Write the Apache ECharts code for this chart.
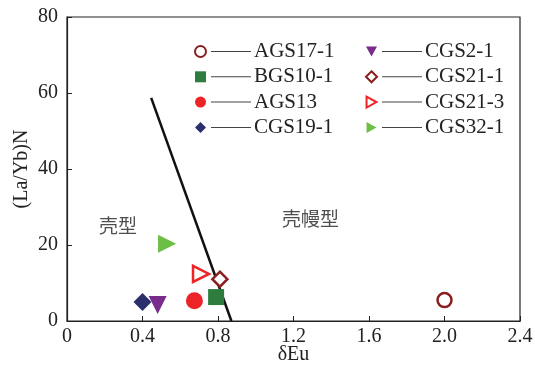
<!DOCTYPE html>
<html><head><meta charset="utf-8">
<script src="https://cdn.jsdelivr.net/npm/echarts@6/dist/echarts.min.js"></script>
<style>html,body{margin:0;padding:0;background:#fff}#c{width:535px;height:367px}</style>
</head><body><div id="c"></div>
<script>
var seriesNames = ['AGS17-1','BGS10-1','AGS13','CGS19-1','CGS2-1','CGS21-1','CGS21-3','CGS32-1'];
var seriesPoints = [[2.0,5.5],[0.79,6.3],[0.675,5.3],[0.40,5.0],[0.48,4.2],[0.81,11.0],[0.71,12.4],[0.53,20.3]];
var boundaryLine = [[0.446,58.7],[0.871,0]];
var regionLabels = [['壳型',0.27,25],['壳幔型',1.29,27]];
var xTicks = [0,0.4,0.8,1.2,1.6,2.0,2.4];
var yTicks = [0,20,40,60,80];

var styles = {
 'AGS17-1':{symbol:'circle',fill:'#fff',stroke:'#8B1E1E',size:14},
 'BGS10-1':{symbol:'rect',fill:'#2E7D3F',stroke:'#2E7D3F',size:16},
 'AGS13':{symbol:'circle',fill:'#EC2327',stroke:'#EC2327',size:17},
 'CGS19-1':{symbol:'diamond',fill:'#2B2F6B',stroke:'#2B2F6B',size:18},
 'CGS2-1':{symbol:'path://M0,0 L10,0 L5,9 Z',fill:'#7A2C8C',stroke:'#7A2C8C',size:18},
 'CGS21-1':{symbol:'diamond',fill:'#fff',stroke:'#8B1E1E',size:15},
 'CGS21-3':{symbol:'path://M0,0 L9,5 L0,10 Z',fill:'#fff',stroke:'#EC2327',size:16},
 'CGS32-1':{symbol:'path://M0,0 L9,5 L0,10 Z',fill:'#6DBE45',stroke:'#6DBE45',size:18}
};
var FONT='Liberation Serif';
var series = seriesNames.map(function(n,i){
  var s=styles[n]; var open = s.fill==='#fff';
  return {name:n,type:'scatter',data:[seriesPoints[i]],symbol:s.symbol,symbolSize:s.size,
    itemStyle:{color:s.fill,borderColor:s.stroke,borderWidth:open?2.5:0,opacity:1},z:3};
});
series.push({name:'boundary',type:'line',data:boundaryLine,showSymbol:false,symbol:'none',
  lineStyle:{color:'#111',width:2.5},z:2,silent:true});
series.push({name:'regions',type:'scatter',symbolSize:0,silent:true,
  data:regionLabels.map(function(r){return {value:[r[1],r[2]],name:r[0]};}),
  label:{show:true,position:'inside',formatter:function(p){return p.name;},
    fontFamily:'Noto Sans CJK SC',fontSize:19,color:'#222'}});

function mkLegend(names,left){
  return {orient:'vertical',left:left,top:36,itemGap:4.3,itemWidth:11,itemHeight:11,
    data:names.map(function(n){var s=styles[n];return {name:n,icon:s.symbol,
      itemStyle:{color:s.fill,borderColor:s.stroke,borderWidth:s.fill==='#fff'?2:0}};}),
    formatter:function(n){return '{l| }{n|'+n+'}';},
    textStyle:{rich:{l:{width:40,height:1,backgroundColor:'#444'},
      n:{fontFamily:FONT,fontSize:21,color:'#222',padding:[0,0,0,3],lineHeight:20}}},
    selectedMode:false};
}
var chart = echarts.init(document.getElementById('c'));
chart.setOption({
  animation:false,
  grid:{left:67,right:15,top:17,bottom:46,show:true,borderColor:'#222',borderWidth:1.2,
    containLabel:false,outerBoundsMode:'none'},
  legend:[mkLegend(seriesNames.slice(0,4),189),mkLegend(seriesNames.slice(4),360)],
  xAxis:{type:'value',min:0,max:2.4,interval:0.4,name:'δEu',nameLocation:'middle',nameGap:24,
    nameMoveOverlap:false,
    nameTextStyle:{fontFamily:FONT,fontSize:20,color:'#222'},
    axisLine:{lineStyle:{color:'#222',width:1.2}},axisTick:{inside:true,length:5,lineStyle:{color:'#222'}},
    splitLine:{show:false},
    axisLabel:{fontFamily:FONT,fontSize:20,color:'#222',margin:6,
      formatter:function(v){var t=xTicks.filter(function(x){return Math.abs(x-v)<1e-6;})[0];return t===0?'0':(t!==undefined?t.toFixed(1):'');}}},
  yAxis:{type:'value',min:0,max:80,interval:20,name:'(La/Yb)N',nameLocation:'middle',nameGap:35,
    nameMoveOverlap:false,
    nameTextStyle:{fontFamily:FONT,fontSize:20,color:'#222'},
    axisLine:{lineStyle:{color:'#222',width:1.2}},axisTick:{inside:true,length:5,lineStyle:{color:'#222'}},
    splitLine:{show:false},
    axisLabel:{fontFamily:FONT,fontSize:20,color:'#222',margin:9,
      formatter:function(v){return yTicks.indexOf(v)>=0?String(v):'';}}},
  series:series
});
</script></body></html>
